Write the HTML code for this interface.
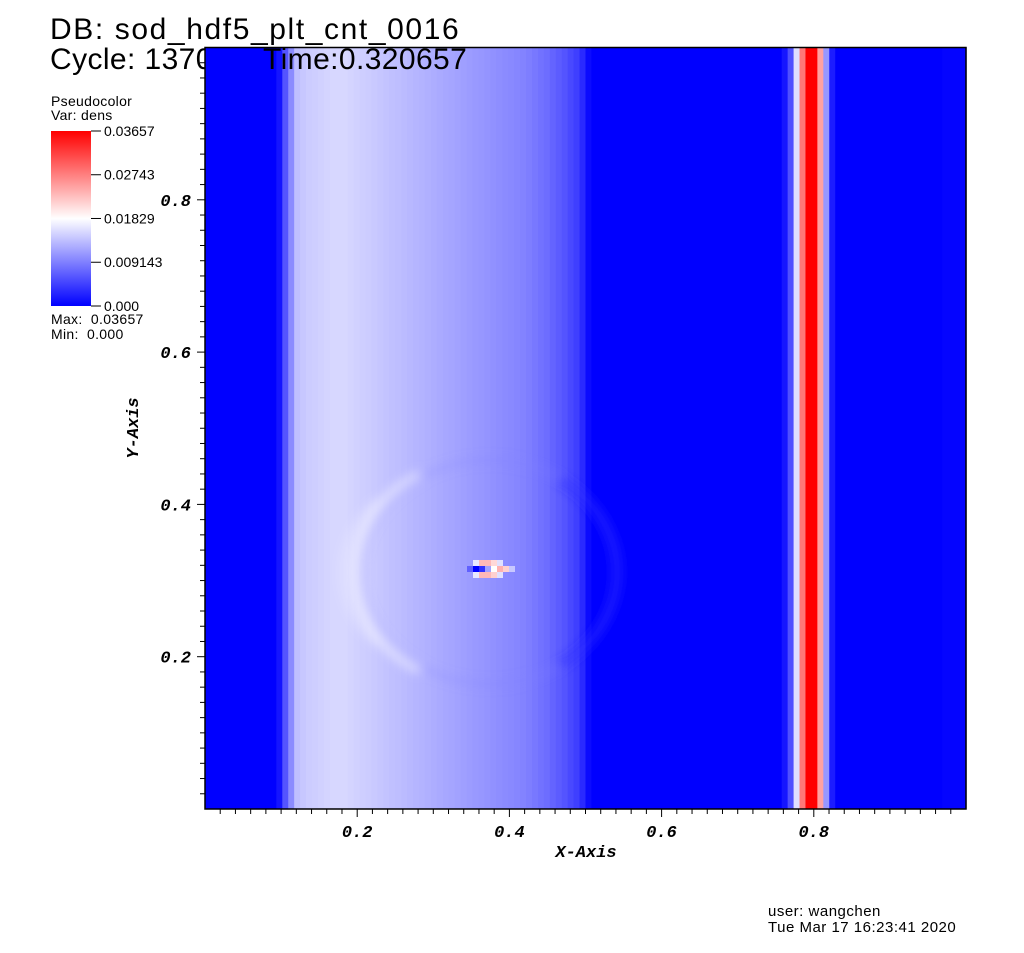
<!DOCTYPE html>
<html><head><meta charset="utf-8"><style>
body{margin:0;background:#fff;width:1024px;height:953px;overflow:hidden;position:relative;font-family:"Liberation Sans","DejaVu Sans",sans-serif}
.t{position:absolute;white-space:nowrap;color:#000}
</style></head><body>
<div class="t" style="left:50px;top:14px;font-size:30px;line-height:31px;letter-spacing:1.6px">DB: sod_hdf5_plt_cnt_0016</div>
<div class="t" style="left:50px;top:44px;font-size:30px;line-height:31px;letter-spacing:0.4px">Cycle: 1370</div>
<svg id="chart" width="1024" height="953" style="position:absolute;left:0;top:0">
<defs>
<linearGradient id="cbar" x1="0" y1="1" x2="0" y2="0">
<stop offset="0" stop-color="#0000ff"/><stop offset="0.5" stop-color="#ffffff"/><stop offset="1" stop-color="#ff0000"/>
</linearGradient>
<filter id="blur" x="-20%" y="-20%" width="140%" height="140%"><feGaussianBlur stdDeviation="5"/></filter>
</defs>
<g id="cells"></g>
<g id="ring" filter="url(#blur)">
<path d="M 420 475 A 128 112 0 0 0 420 670" fill="none" stroke="#ffffff" stroke-opacity="0.5" stroke-width="10"/>
<path d="M 395 500 A 125 105 0 0 0 395 645" fill="none" stroke="#ffffff" stroke-opacity="0.25" stroke-width="6" transform="translate(-18,0)"/>
<ellipse cx="490" cy="572" rx="128" ry="112" fill="none" stroke="#8080ff" stroke-opacity="0.25" stroke-width="6"/>
<path d="M 560 480 A 128 112 0 0 1 560 665" fill="none" stroke="#2020ff" stroke-opacity="0.45" stroke-width="10"/>
</g>
<g id="blob">
<rect x="461" y="566" width="6" height="6" fill="#a0a0ff"/>
<rect x="467" y="566" width="6" height="6" fill="#6060ff"/>
<rect x="473" y="566" width="6" height="6" fill="#0000ff"/>
<rect x="479" y="566" width="6" height="6" fill="#3030ff"/>
<rect x="485" y="566" width="6" height="6" fill="#a0a0ff"/>
<rect x="491" y="566" width="6" height="6" fill="#ffffff"/>
<rect x="497" y="566" width="6" height="6" fill="#ffb0b0"/>
<rect x="503" y="566" width="6" height="6" fill="#ffd0d0"/>
<rect x="509" y="566" width="6" height="6" fill="#c8c8ff"/>
<rect x="473" y="560" width="6" height="6" fill="#e8e8ff"/>
<rect x="479" y="560" width="12" height="6" fill="#ffb8b8"/>
<rect x="491" y="560" width="6" height="6" fill="#ffd8d8"/>
<rect x="497" y="560" width="6" height="6" fill="#e0e0ff"/>
<rect x="473" y="572" width="6" height="6" fill="#e8e8ff"/>
<rect x="479" y="572" width="12" height="6" fill="#ffb8b8"/>
<rect x="491" y="572" width="6" height="6" fill="#ffd0d0"/>
<rect x="497" y="572" width="6" height="6" fill="#e0e0ff"/>
</g>
<rect x="205" y="47.5" width="761" height="761.5" fill="none" stroke="#000" stroke-width="1.5"/>
<g id="axes"></g>
<rect x="51" y="131" width="40" height="175" fill="url(#cbar)"/>
<g id="cbticks"></g>
</svg>
<div class="t" style="left:263px;top:44px;font-size:30px;line-height:31px;letter-spacing:0.4px">Time:0.320657</div>
<div class="t" style="left:51px;top:93px;font-size:14px;letter-spacing:0.3px">Pseudocolor</div>
<div class="t" style="left:51px;top:107px;font-size:14px;letter-spacing:0.3px">Var: dens</div>
<div class="t" style="left:51px;top:311px;font-size:14px;letter-spacing:0.3px">Max:&nbsp; 0.03657</div>
<div class="t" style="left:51px;top:326px;font-size:14px;letter-spacing:0.3px">Min:&nbsp; 0.000</div>
<div class="t" style="left:768px;top:903px;font-size:15px;letter-spacing:0.5px">user: wangchen</div>
<div class="t" style="left:768px;top:919px;font-size:15px;letter-spacing:0.5px">Tue Mar 17 16:23:41 2020</div>
<script>
const densMax = 0.03657;
// column density (128 columns, x from 0 to 1), rows of 10
const colDensity = [
0,0,0,0,0,0,0,0,0,0,
0,0,0.0014,0.0060,0.0100,0.0137,0.0143,0.0146,0.0148,0.0150,
0.0152,0.0154,0.0154,0.0154,0.0152,0.0150,0.0148,0.0146,0.0144,0.0142,
0.0140,0.0138,0.0136,0.0134,0.0132,0.0130,0.0128,0.0126,0.0124,0.0122,
0.0120,0.0118,0.0116,0.0114,0.0112,0.0110,0.0108,0.0106,0.0104,0.0102,
0.0100,0.0098,0.0096,0.0094,0.0090,0.0086,0.0082,0.0078,0.0072,0.0066,
0.0060,0.0052,0.0045,0.0030,0.0008,0,0,0,0,0,
0,0,0,0,0,0,0,0,0,0,
0,0,0,0,0,0,0,0,0,0,
0,0,0,0,0,0,0,0.0015,0.0057,0.0160,
0.0280,0.0366,0.0366,0.0250,0.0108,0.0020,0,0,0,0,
0,0,0,0,0,0,0,0,0,0,
0,0,0,0,0.0003,0.0003,0.0003,0.0003];
const xTicks = [0.2,0.4,0.6,0.8];
const yTicks = [0.2,0.4,0.6,0.8];
const cbTicks = [0.03657,0.02743,0.01829,0.009143,0.0];
const cbLabels = ["0.03657","0.02743","0.01829","0.009143","0.000"];
const X0=205,X1=966,Y0=809,Y1=47.5;
const sx=v=>X0+v*(X1-X0), sy=v=>Y0-v*(Y0-Y1);
const NS='http://www.w3.org/2000/svg';
function color(v){let t=Math.max(0,Math.min(1,v/densMax));let r,g,b;
if(t<0.5){const s=t/0.5;r=g=Math.round(255*s);b=255;}else{const u=(t-0.5)/0.5;r=255;g=b=Math.round(255*(1-u));}
return `rgb(${r},${g},${b})`;}
const cells=document.getElementById('cells');
const n=colDensity.length;
colDensity.forEach((v,i)=>{const r=document.createElementNS(NS,'rect');
const xa=sx(i/n),xb=sx((i+1)/n);
r.setAttribute('x',xa);r.setAttribute('y',Y1);r.setAttribute('width',xb-xa+0.6);r.setAttribute('height',Y0-Y1);
r.setAttribute('fill',color(v));


cells.appendChild(r);});
const ax=document.getElementById('axes');
function line(x1,y1,x2,y2){const l=document.createElementNS(NS,'line');l.setAttribute('x1',x1);l.setAttribute('y1',y1);l.setAttribute('x2',x2);l.setAttribute('y2',y2);l.setAttribute('stroke','#000');l.setAttribute('stroke-width','1');


ax.appendChild(l);}
function text(x,y,s,anchor,extra){const t=document.createElementNS(NS,'text');t.setAttribute('x',x);t.setAttribute('y',y);t.setAttribute('text-anchor',anchor);
t.setAttribute('font-family','"Liberation Mono", monospace');t.setAttribute('font-weight','bold');t.setAttribute('font-style','italic');t.setAttribute('font-size','17');
if(extra)t.setAttribute('transform',extra);t.textContent=s;


ax.appendChild(t);return t;}
for(let k=1;k<50;k++){const v=k/50;const major=(k%10===0);
line(sx(v),Y0,sx(v),Y0+(major?8:5));
line(X0,sy(v),X0-(major?8:5),sy(v));}
xTicks.forEach(v=>text(sx(v),Y0+28,v.toFixed(1),'middle'));
yTicks.forEach(v=>text(X0-14,sy(v)+6,v.toFixed(1),'end'));
text(586,857,'X-Axis','middle');
text(138,428,'Y-Axis','middle','rotate(-90 138 428)');
const cb=document.getElementById('cbticks');
cbTicks.forEach((v,i)=>{const y=306-(v/densMax)*175;
const l=document.createElementNS(NS,'line');l.setAttribute('x1',91);l.setAttribute('x2',101);l.setAttribute('y1',y);l.setAttribute('y2',y);l.setAttribute('stroke','#000');


cb.appendChild(l);
const t=document.createElementNS(NS,'text');t.setAttribute('x',104);t.setAttribute('y',y+5);t.setAttribute('font-size','14');t.setAttribute('font-family','"Liberation Sans", sans-serif');t.textContent=cbLabels[i];


cb.appendChild(t);});
</script>
</body></html>
